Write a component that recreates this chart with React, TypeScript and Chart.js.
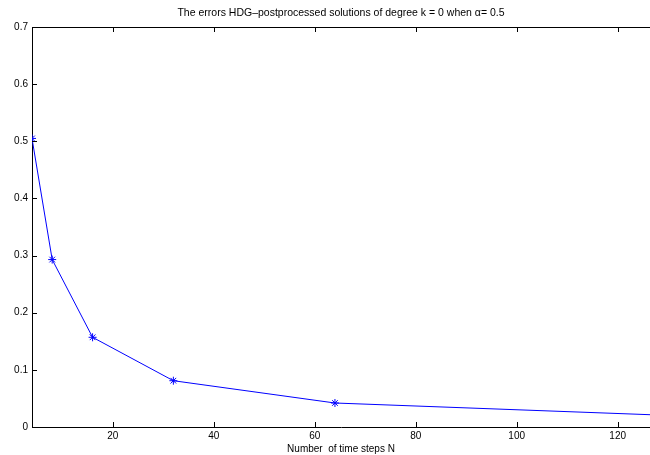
import React, { useEffect, useRef } from "react";
import { Chart, registerables } from "chart.js";

Chart.register(...registerables);

const titleText = "The errors HDG\u2013postprocessed solutions of degree k = 0 when \u03b1= 0.5";
const xLabel = "Number  of time steps N";
const steps = [4, 8, 16, 32, 64, 128];
const errors = [0.505, 0.293, 0.157, 0.081, 0.042, 0.021];
const xTicks = [20, 40, 60, 80, 100, 120];
const yTicks = [0, 0.1, 0.2, 0.3, 0.4, 0.5, 0.6, 0.7];

const FONT = "'Liberation Sans', Arial, Helvetica, sans-serif";

const framePlugin = {
  id: "frame",
  afterDraw(chart: any) {
    const { ctx, chartArea, scales } = chart;
    const { left, right, top, bottom } = chartArea;
    const tl = 5;
    ctx.save();
    ctx.strokeStyle = "#000";
    ctx.lineWidth = 1;
    ctx.beginPath();
    ctx.moveTo(left, top + 0.5);
    ctx.lineTo(right, top + 0.5);
    for (const v of xTicks) {
      const px = Math.round(scales.x.getPixelForValue(v)) + 0.5;
      ctx.moveTo(px, bottom);
      ctx.lineTo(px, bottom - tl);
      ctx.moveTo(px, top);
      ctx.lineTo(px, top + tl);
    }
    for (const v of yTicks) {
      const py = Math.round(scales.y.getPixelForValue(v)) + 0.5;
      ctx.moveTo(left, py);
      ctx.lineTo(left + tl, py);
    }
    ctx.stroke();
    ctx.restore();
  },
};

export default function App() {
  const ref = useRef<HTMLCanvasElement | null>(null);
  useEffect(() => {
    document.body.style.margin = "0";
    const chart = new Chart(ref.current as HTMLCanvasElement, {
      type: "line",
      data: {
        datasets: [
          {
            data: steps.map((s, i) => ({ x: s, y: errors[i] })),
            borderColor: "#0000ff",
            backgroundColor: "#0000ff",
            borderWidth: 1,
            pointStyle: "star",
            pointRadius: 4,
            pointBorderWidth: 1,
            pointBorderColor: "#0000ff",
            tension: 0,
            fill: false,
          },
        ],
      },
      options: {
        animation: false,
        responsive: false,
        layout: { autoPadding: false, padding: { left: 0, right: 0, top: 0, bottom: 0 } },
        plugins: {
          legend: { display: false },
          tooltip: { enabled: false },
          title: {
            display: true,
            fullSize: false,
            text: titleText,
            color: "#000",
            font: { family: FONT, size: 10.5, weight: "normal" },
            padding: { top: 7, bottom: 7.4 },
          },
        },
        scales: {
          x: {
            type: "linear",
            min: 4,
            max: 126.4,
            grid: { display: false, drawTicks: false },
            border: { display: true, color: "#000", width: 1 },
            afterBuildTicks: (scale: any) => {
              scale.ticks = xTicks.map((v) => ({ value: v }));
            },
            ticks: {
              color: "#000",
              font: { family: FONT, size: 10 },
              padding: 3,
              autoSkip: false,
              maxRotation: 0,
              callback: (v: any) => String(v),
            },
            title: {
              display: true,
              text: xLabel,
              color: "#000",
              font: { family: FONT, size: 10 },
              padding: 0,
            },
            afterFit: (scale: any) => {
              scale.height = 28;
              scale.paddingLeft = 0;
              scale.paddingRight = 0;
            },
          },
          y: {
            type: "linear",
            min: 0,
            max: 0.7,
            grid: { display: false, drawTicks: false },
            border: { display: true, color: "#000", width: 1 },
            afterBuildTicks: (scale: any) => {
              scale.ticks = yTicks.map((v) => ({ value: v }));
            },
            ticks: {
              color: "#000",
              font: { family: FONT, size: 10 },
              padding: 4,
              callback: (v: any) => String(Math.round(Number(v) * 10) / 10),
            },
            afterFit: (scale: any) => {
              scale.width = 32;
              scale.paddingTop = 0;
              scale.paddingBottom = 0;
            },
          },
        },
      },
      plugins: [framePlugin],
    } as any);
    return () => chart.destroy();
  }, []);
  return (
    <div style={{ position: "absolute", left: 0, top: 0, width: 650, height: 455, background: "#fff" }}>
      <canvas ref={ref} width={650} height={455} style={{ display: "block" }} />
    </div>
  );
}
